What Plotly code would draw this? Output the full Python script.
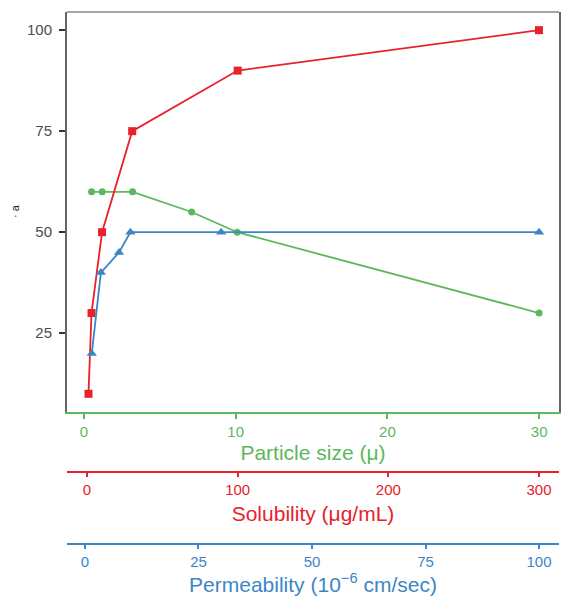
import plotly.graph_objects as go

# ---- data ----
solubility_x = [1, 3, 10, 30, 100, 300]          # µg/mL (red axis)
solubility_y = [10, 30, 50, 75, 90, 100]
particle_x = [0.5, 1.2, 3.2, 7.1, 10.1, 30]        # µ (green axis)
particle_y = [60, 60, 60, 55, 50, 30]
permeability_x = [1.5, 3.5, 7.5, 10, 30, 100]     # 1e-6 cm/sec (blue axis)
permeability_y = [20, 40, 45, 50, 50, 50]

y_ticks = [25, 50, 75, 100]
particle_ticks = [0, 10, 20, 30]
solubility_ticks = [0, 100, 200, 300]
permeability_ticks = [0, 25, 50, 75, 100]

RED = "#e8212b"
GREEN = "#5cb85c"
BLUE = "#3d86c6"
FONT = "Liberation Sans, Arial, sans-serif"

fig = go.Figure()
fig.add_trace(go.Scatter(x=particle_x, y=particle_y, mode="lines+markers",
                         line=dict(color=GREEN, width=1.8),
                         marker=dict(symbol="circle", size=7, color=GREEN),
                         xaxis="x", yaxis="y", showlegend=False))
fig.add_trace(go.Scatter(x=permeability_x, y=permeability_y, mode="lines+markers",
                         line=dict(color=BLUE, width=1.8),
                         marker=dict(symbol="triangle-up", size=9, color=BLUE),
                         xaxis="x3", yaxis="y", showlegend=False))
fig.add_trace(go.Scatter(x=solubility_x, y=solubility_y, mode="lines+markers",
                         line=dict(color=RED, width=1.8),
                         marker=dict(symbol="square", size=8, color=RED),
                         xaxis="x2", yaxis="y", showlegend=False))

H_TOP = 12
H_BOT = 20
paper_h = 598 - H_TOP - H_BOT
def pos(py):
    return (598 - H_BOT - py) / paper_h

tick_font = 15
title_font = 21

fig.update_layout(
    width=562, height=598,
    margin=dict(l=67, r=3, t=H_TOP, b=H_BOT),
    paper_bgcolor="white", plot_bgcolor="white",
    font=dict(family=FONT),
    xaxis=dict(
        domain=[0, 1], anchor="y", range=[-1.12, 31.31],
        tickvals=particle_ticks, ticks="outside", ticklen=5, tickwidth=1.5,
        tickcolor=GREEN, tickfont=dict(color=GREEN, size=tick_font),
        showline=True, linecolor=GREEN, linewidth=2,
        showgrid=False, zeroline=False,
        title=dict(text="Particle size (μ)", font=dict(color=GREEN, size=title_font), standoff=6),
        automargin=False,
    ),
    xaxis2=dict(
        overlaying="x", anchor="free", position=pos(472), side="bottom",
        range=[-13.27, 313.3],
        tickvals=solubility_ticks, ticks="outside", ticklen=4, tickwidth=1.5,
        tickcolor=RED, tickfont=dict(color=RED, size=tick_font),
        showline=True, linecolor=RED, linewidth=2,
        showgrid=False, zeroline=False,
        title=dict(text="Solubility (μg/mL)", font=dict(color=RED, size=title_font), standoff=8),
        automargin=False,
    ),
    xaxis3=dict(
        overlaying="x", anchor="free", position=pos(544), side="bottom",
        range=[-3.96, 104.4],
        tickvals=permeability_ticks, ticks="outside", ticklen=4, tickwidth=1.5,
        tickcolor=BLUE, tickfont=dict(color=BLUE, size=tick_font),
        showline=True, linecolor=BLUE, linewidth=2,
        showgrid=False, zeroline=False,
        title=dict(text="Permeability (10<sup>−6</sup> cm/sec)", font=dict(color=BLUE, size=title_font), standoff=0),
        automargin=False,
    ),
    yaxis=dict(
        domain=[pos(412), 1], anchor="x", range=[5.5, 104.5],
        tickvals=y_ticks, ticks="outside", ticklen=6, tickwidth=1.5,
        tickcolor="#333333", tickfont=dict(color="#4d4d4d", size=tick_font),
        ticklabelstandoff=4,
        showline=True, linecolor="#666666", linewidth=2, mirror=True,
        showgrid=False, zeroline=False,
        automargin=False,
    ),
    shapes=[dict(type="line", xref="x domain", yref="y domain",
                 x0=0, x1=1, y0=1, y1=1, line=dict(color="#888888", width=1.5))],
    annotations=[dict(text="· a", xref="paper", yref="paper", x=(15 - 67) / (562 - 70), y=pos(211),
                      showarrow=False, textangle=-90, font=dict(size=11, color="#222222"),
                      xanchor="center", yanchor="middle")],
)

fig.write_html("out.html", config={"displayModeBar": False},
               post_script="document.body.style.margin='0';document.body.style.overflow='hidden';")
